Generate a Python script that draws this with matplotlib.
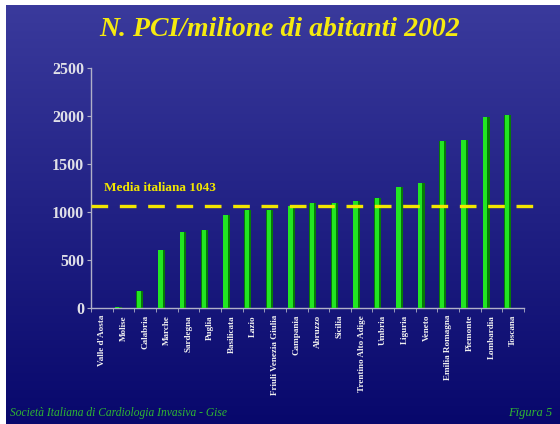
import numpy as np
import matplotlib
matplotlib.use("Agg")
import matplotlib.pyplot as plt

# data
regioni = ["Valle d'Aosta", "Molise", "Calabria", "Marche", "Sardegna", "Puglia",
           "Basilicata", "Lazio", "Friuli Venezia Giulia", "Campania", "Abruzzo",
           "Sicilia", "Trentino Alto Adige", "Umbria", "Liguria", "Veneto",
           "Emilia Romagna", "Piemonte", "Lombardia", "Toscana"]
pci = [5, 8, 173, 605, 788, 815, 972, 1020, 1024, 1065, 1095, 1095, 1115, 1150,
       1260, 1302, 1735, 1753, 1990, 2006]
media = 1065
media_label = "Media italiana 1043"
y_ticks = [0, 500, 1000, 1500, 2000, 2500]

plt.rcParams['font.family'] = ['Liberation Serif', 'DejaVu Serif']

fig = plt.figure(figsize=(5.6, 4.24), dpi=100, facecolor='white')

# gradient background (white strip on top/left like the scanned slide)
bg = fig.add_axes([6 / 560, 0, 554 / 560, 419 / 424])
grad = np.linspace(0, 1, 256).reshape(-1, 1)
top = np.array([58, 58, 156]) / 255
bottom = np.array([8, 8, 108]) / 255
img = top[None, None, :] * (1 - grad[:, :, None]) + bottom[None, None, :] * grad[:, :, None]
bg.imshow(img, aspect='auto', extent=[0, 1, 0, 1])
bg.axis('off')

ax = fig.add_axes([91 / 560, 116 / 424, 433 / 560, 240 / 424])
ax.set_facecolor('none')

x = np.arange(len(regioni))
# bars: dark side + bright face
ax.bar(x - 0.25, pci, width=0.32, color='#077a07', zorder=2)
ax.bar(x - 0.29, pci, width=0.2, color='#22e622', zorder=3)

ax.set_xlim(-0.5, len(regioni) - 0.5)
ax.set_ylim(0, 2500)
ax.set_yticks(y_ticks)
ax.set_yticklabels([str(v) for v in y_ticks], fontsize=11.5, fontweight='bold', color='#e0e0e8')
ax.set_xticks(x)
ax.set_xticklabels(regioni, rotation=90, fontsize=6.6, fontweight='bold', color='#f0f0f0', va='top')
ax.set_xticks(np.arange(-0.5, len(regioni)), minor=True)
ax.tick_params(axis='x', which='major', length=0, pad=5)
ax.tick_params(axis='x', which='minor', length=3, color='#b0b0c8')
ax.tick_params(axis='y', length=3, color='#b0b0c8', pad=2)

for s in ['top', 'right']:
    ax.spines[s].set_visible(False)
for s in ['left', 'bottom']:
    ax.spines[s].set_color('#b0b0c8')
    ax.spines[s].set_linewidth(1)

# average line
ax.axhline(media, xmin=0, xmax=1.04, color='#f2e600', lw=2.4,
           dashes=(5, 3.5), clip_on=False, zorder=4)
ax.text(0.03, media + 120, media_label, transform=ax.get_yaxis_transform(),
        fontsize=9.5, fontweight='bold', color='#f2e600', ha='left', va='bottom')

fig.text(0.5, 394 / 424, "N. PCI/milione di abitanti 2002", fontsize=20, fontstyle='italic',
         fontweight='bold', color='#f5ea10', ha='center', va='center')
fig.text(10 / 560, 11 / 424, "Società Italiana di Cardiologia Invasiva - Gise", fontsize=8.3,
         fontstyle='italic', color='#30b830', ha='left', va='center')
fig.text(552 / 560, 11 / 424, "Figura 5", fontsize=9, fontstyle='italic',
         color='#30b830', ha='right', va='center')

fig.savefig('out.png', dpi=100, facecolor='white')
